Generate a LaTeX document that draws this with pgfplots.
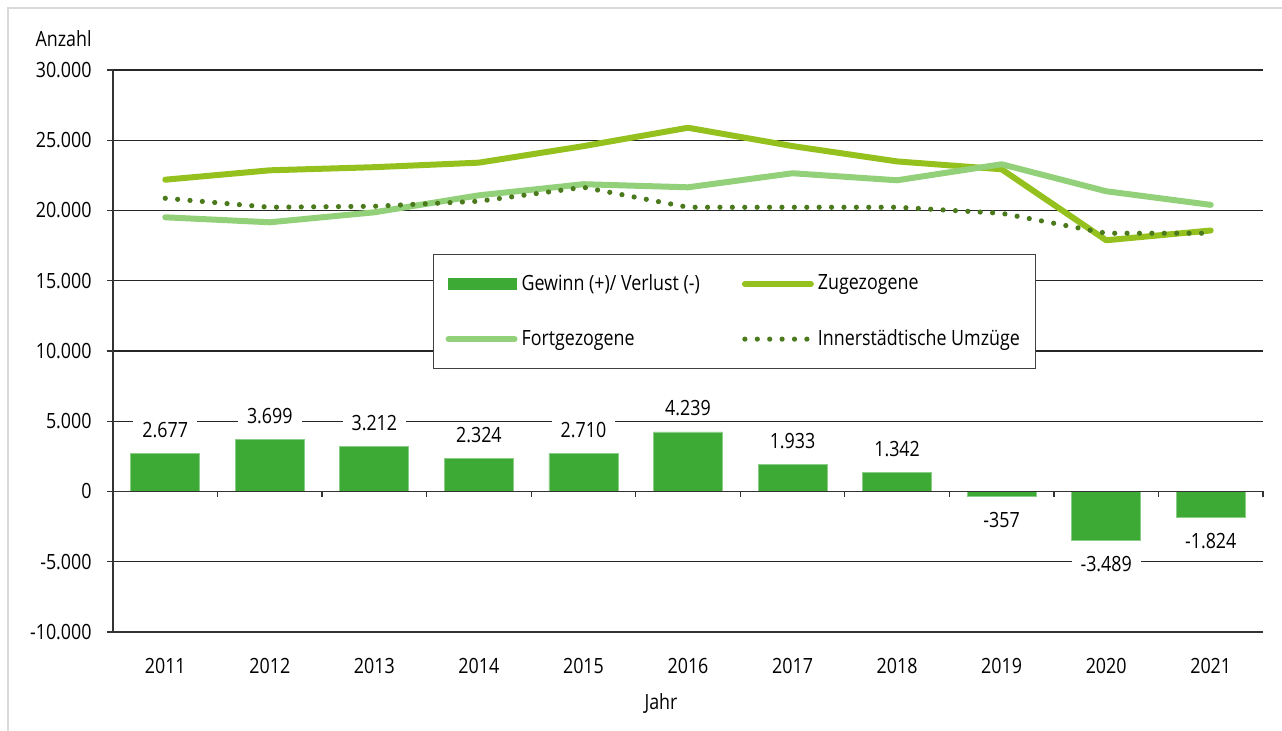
\documentclass[border=0pt]{standalone}
\usepackage{fontspec}
\setmainfont{Open Sans}[FakeStretch=0.85]
\usepackage{pgfplots}
\pgfplotsset{compat=1.18}
\definecolor{barg}{RGB}{61,170,53}
\definecolor{zug}{RGB}{149,193,31}
\definecolor{fort}{RGB}{147,208,122}
\definecolor{innerc}{RGB}{74,122,28}
\begin{document}
\fontsize{10.5}{12}\selectfont
\begin{tikzpicture}[font=\fontsize{10.5}{12}\selectfont]
\useasboundingbox (-56.5pt,-49.5pt) rectangle (584.5pt,316pt);
\draw[gray!30, line width=1pt] (-52.5pt,-49.5pt) -- (-52.5pt,312pt) -- (584.5pt,312pt);
\begin{axis}[
  at={(0,0)}, anchor=south west,
  scale only axis, width=575pt, height=281pt,
  xmin=-0.5, xmax=10.5, ymin=-10000, ymax=30000,
  axis x line=bottom, axis y line=left,
  axis line style={-, black!80, line width=0.6pt},
  ytick={-10000,-5000,0,5000,10000,15000,20000,25000,30000},
  xtick={0,1,2,3,4,5,6,7,8,9,10},
  xticklabels={2011,2012,2013,2014,2015,2016,2017,2018,2019,2020,2021},
  xtick style={draw=none},
  ytick style={black!80, line width=0.6pt},
  tick align=outside, major tick length=3pt,
  ymajorgrids, grid style={black!85, line width=0.6pt},
  scaled y ticks=false,
  /pgf/number format/1000 sep={.},
  /pgf/number format/assume math mode=true,
  yticklabel style={anchor=east, inner sep=0pt, xshift=-7.5pt},
  xticklabel style={anchor=north, inner sep=0pt, yshift=-10pt},
  clip=false,
  legend style={at={(0.2783,0.6726)}, anchor=north west, draw=black!75, line width=0.5pt,
    inner xsep=6pt, inner ysep=8pt, row sep=14pt, legend columns=2,
    nodes={inner sep=2pt, anchor=west},
    /tikz/every even column/.append style={column sep=19pt}},
  legend cell align=left,
  legend image code/.code={\draw[#1] (0pt,0pt) -- (33pt,0pt);},
]
\addplot[ybar, bar width=34.5pt, fill=barg, draw=barg!60!white, line width=0.4pt,
  nodes near coords,
  nodes near coords style={fill=white, text=black, inner xsep=4.5pt, inner ysep=1.5pt, outer ysep=6.5pt},
  legend image code/.code={\fill[barg] (0pt,-2.7pt) rectangle (34pt,2.7pt);}]
coordinates {(0,2677) (1,3699) (2,3212) (3,2324) (4,2710) (5,4239) (6,1933) (7,1342) (8,-357) (9,-3489) (10,-1824)};
\addlegendentry{Gewinn (+)/ Verlust (-)}
\addplot[zug, line width=3pt, line join=round, line cap=round]
coordinates {(0,22192) (1,22859) (2,23082) (3,23404) (4,24580) (5,25889) (6,24583) (7,23492) (8,22933) (9,17881) (10,18576)};
\addlegendentry{Zugezogene}
\addplot[fort, line width=3pt, line join=round, line cap=round]
coordinates {(0,19515) (1,19160) (2,19870) (3,21080) (4,21870) (5,21650) (6,22650) (7,22150) (8,23290) (9,21370) (10,20400)};
\addlegendentry{Fortgezogene}
\addplot[innerc, line width=2.6pt, line cap=round, dash pattern=on 0pt off 6.2pt]
coordinates {(0,20870) (1,20230) (2,20300) (3,20660) (4,21650) (5,20230) (6,20230) (7,20230) (8,19800) (9,18380) (10,18380)};
\addlegendentry{Innerstädtische Umzüge}
\draw[black!80, line width=0.6pt] (axis cs:-0.5,0) -- (axis cs:10.5,0);
\draw[black!80, line width=0.6pt] (axis cs:0.5,0) -- ++(0pt,-3pt);
\draw[black!80, line width=0.6pt] (axis cs:1.5,0) -- ++(0pt,-3pt);
\draw[black!80, line width=0.6pt] (axis cs:2.5,0) -- ++(0pt,-3pt);
\draw[black!80, line width=0.6pt] (axis cs:3.5,0) -- ++(0pt,-3pt);
\draw[black!80, line width=0.6pt] (axis cs:4.5,0) -- ++(0pt,-3pt);
\draw[black!80, line width=0.6pt] (axis cs:5.5,0) -- ++(0pt,-3pt);
\draw[black!80, line width=0.6pt] (axis cs:6.5,0) -- ++(0pt,-3pt);
\draw[black!80, line width=0.6pt] (axis cs:7.5,0) -- ++(0pt,-3pt);
\draw[black!80, line width=0.6pt] (axis cs:8.5,0) -- ++(0pt,-3pt);
\draw[black!80, line width=0.6pt] (axis cs:9.5,0) -- ++(0pt,-3pt);
\draw[black!80, line width=0.6pt] (axis cs:10.5,0) -- ++(0pt,-3pt);
\node[anchor=east, inner sep=0pt] at ([xshift=-10.5pt,yshift=15.5pt]rel axis cs:0,1) {Anzahl};
\node[inner sep=0pt] at ([yshift=-36pt]rel axis cs:0.4765,0) {Jahr};
\end{axis}
\end{tikzpicture}
\end{document}
